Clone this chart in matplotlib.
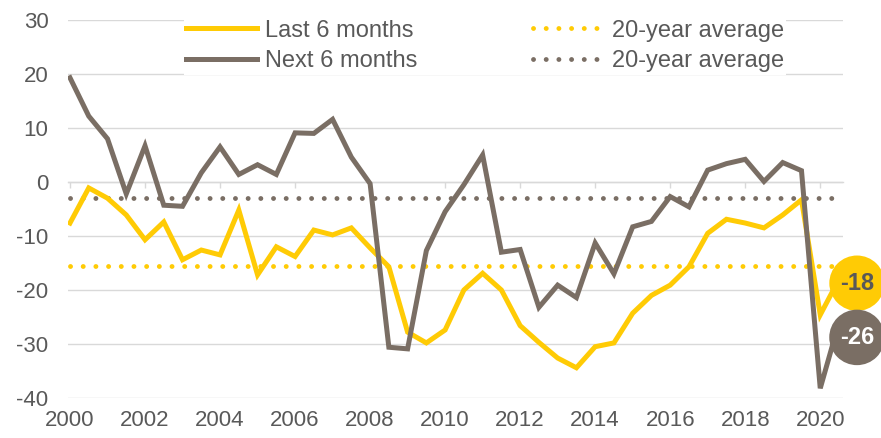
import numpy as np
import matplotlib
matplotlib.use("Agg")
import matplotlib.pyplot as plt

plt.rcParams['font.family'] = ['Liberation Sans', 'DejaVu Sans']
plt.rcParams['axes.unicode_minus'] = False

# half-year periods, 2000 H1 .. 2020 H2
periods = [2000.0, 2000.5, 2001.0, 2001.5, 2002.0, 2002.5, 2003.0, 2003.5,
           2004.0, 2004.5, 2005.0, 2005.5, 2006.0, 2006.5, 2007.0, 2007.5,
           2008.0, 2008.5, 2009.0, 2009.5, 2010.0, 2010.5, 2011.0, 2011.5,
           2012.0, 2012.5, 2013.0, 2013.5, 2014.0, 2014.5, 2015.0, 2015.5,
           2016.0, 2016.5, 2017.0, 2017.5, 2018.0, 2018.5, 2019.0, 2019.5,
           2020.0, 2020.5]

last6 = [-7.6, -1.1, -3.0, -6.1, -10.7, -7.4, -14.4, -12.6, -13.5, -5.2,
         -17.2, -12.0, -13.8, -8.9, -9.8, -8.5, -12.2, -15.7, -27.8, -29.8,
         -27.4, -20.0, -16.9, -20.0, -26.6, -29.7, -32.6, -34.4, -30.5, -29.8,
         -24.3, -21.0, -19.1, -15.7, -9.5, -6.9, -7.6, -8.5, -6.1, -3.3,
         -24.6, -18]
next6 = [19.3, 12.2, 8.0, -2.2, 6.7, -4.3, -4.5, 1.7, 6.5, 1.4,
         3.2, 1.4, 9.1, 9.0, 11.6, 4.6, -0.3, -30.6, -30.9, -12.7,
         -5.5, -0.5, 5.0, -13.0, -12.5, -23.2, -19.1, -21.4, -11.3, -17.0,
         -8.3, -7.3, -2.7, -4.6, 2.2, 3.4, 4.2, 0.1, 3.6, 2.1,
         -38.2, -26]
avg_last = -15.6
avg_next = -2.9

xticks = [2000, 2002, 2004, 2006, 2008, 2010, 2012, 2014, 2016, 2018, 2020]
yticks = [-40, -30, -20, -10, 0, 10, 20, 30]

YEL = '#FFCB05'
GRY = '#7A6E64'
TXT = '#595959'
GRID = '#D9D9D9'

fig = plt.figure(figsize=(8.81, 4.38), dpi=100)
ax = fig.add_axes([68/881, 1 - 398/438, (843 - 68)/881, (398 - 20)/438])

x = np.array(periods)
ax.plot(x, last6, color=YEL, lw=3.6, solid_joinstyle='miter', label='Last 6 months', zorder=4)
ax.plot(x, next6, color=GRY, lw=3.6, solid_joinstyle='miter', label='Next 6 months', zorder=5)
dots = (0, (0.01, 2.6))
ax.plot([x[0], x[-1]], [avg_last, avg_last], color=YEL, lw=3.5,
        ls=dots, dash_capstyle='round', label='20-year average', zorder=3)
ax.plot([x[0], x[-1]], [avg_next, avg_next], color=GRY, lw=3.5,
        ls=dots, dash_capstyle='round', label='20-year average', zorder=3)

ax.set_xlim(2000 - 2/37.5, 2020.5 + 4/37.5)
ax.set_ylim(-40, 30)
ax.set_yticks(yticks)
ax.yaxis.grid(True, color=GRID, lw=1.0)
ax.set_axisbelow(True)
for s in ['top', 'right', 'left']:
    ax.spines[s].set_visible(False)
ax.spines['bottom'].set_position(('data', 0))
ax.spines['bottom'].set_color(GRID)
ax.spines['bottom'].set_linewidth(1.0)
ax.set_xticks(xticks)
ax.tick_params(axis='x', direction='out', length=4.5, width=1.0, color=GRID, labelbottom=False)
ax.tick_params(axis='y', length=0, pad=14, labelsize=16, labelcolor=TXT)

sec = ax.secondary_xaxis(0)
sec.set_xticks(xticks)
sec.set_xticklabels([str(t) for t in xticks])
sec.tick_params(length=0, pad=9, labelsize=16, labelcolor=TXT)
sec.spines['bottom'].set_visible(False)

# end-of-series labels
ax.annotate(str(last6[-1]), xy=(x[-1], last6[-1]), xytext=(18, -4), textcoords='offset pixels',
            ha='center', va='center', fontsize=17, fontweight='bold', color=TXT,
            bbox=dict(boxstyle='circle,pad=0.45', fc=YEL, ec='none'),
            annotation_clip=False, zorder=8)
ax.annotate(str(next6[-1]), xy=(x[-1], next6[-1]), xytext=(18, -15), textcoords='offset pixels',
            ha='center', va='center', fontsize=17, fontweight='bold', color='white',
            bbox=dict(boxstyle='circle,pad=0.45', fc=GRY, ec='none'),
            annotation_clip=False, zorder=9)

leg = ax.legend(ncol=2, loc='center', bbox_to_anchor=(485/881, 1 - 46/438),
                bbox_transform=fig.transFigure, frameon=True, fancybox=False,
                edgecolor='none', facecolor='white', framealpha=1, fontsize=17,
                handlelength=3.0, handletextpad=0.34, columnspacing=4.9,
                labelspacing=0.36, borderpad=0.1)
for t in leg.get_texts():
    t.set_color(TXT)

fig.savefig('out.png', dpi=100)
